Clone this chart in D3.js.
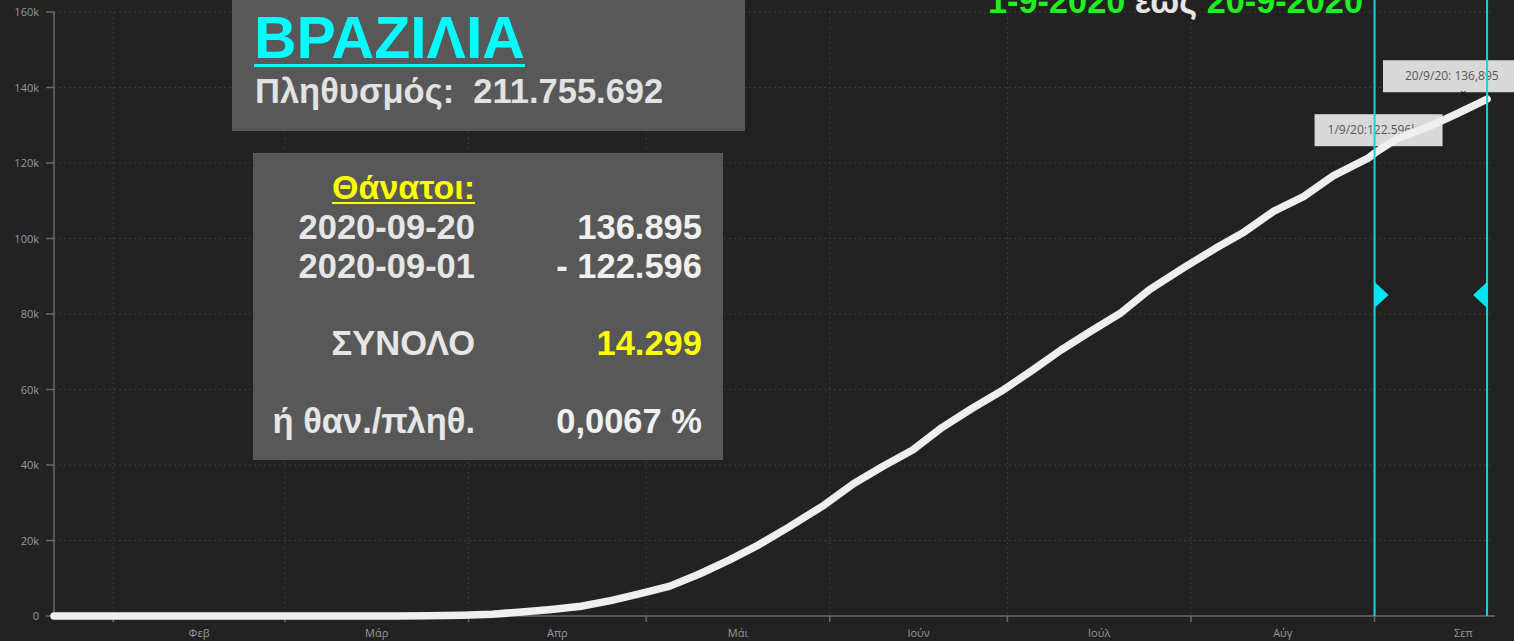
<!DOCTYPE html>
<html lang="el">
<head>
    <meta charset="UTF-8">
    <title>Βραζιλία - θάνατοι</title>
    <script src="https://d3js.org/d3.v7.min.js"></script>
    <style>
        body { margin: 0; background-color: #222222; overflow: hidden; }
        svg { display: block; background-color: #222222; }
        .grid line { stroke: #3c3c3c; stroke-width: 1; stroke-dasharray: 2,3; }
        .axis-line { stroke: #6a6a6a; stroke-width: 1.5; }
        .tick-label { fill: #9a9a9a; font-family: "Open Sans", sans-serif; font-size: 11px; }
        .panel { fill: #585858; }
        .big { font-family: "Liberation Sans", Arial, sans-serif; font-weight: bold; }
    </style>
</head>
<body>
<svg width="1514" height="641"></svg>
<script>
    // Σωρευτικοί θάνατοι Βραζιλίας (εκτίμηση από την εικόνα)
    const dates = ["2020-01-22", "2020-03-15", "2020-03-17", "2020-03-20", "2020-03-25", "2020-03-31",
        "2020-04-05", "2020-04-10", "2020-04-15", "2020-04-20", "2020-04-25", "2020-04-30",
        "2020-05-05", "2020-05-10", "2020-05-15", "2020-05-20", "2020-05-25", "2020-05-31",
        "2020-06-05", "2020-06-10", "2020-06-15", "2020-06-20", "2020-06-25", "2020-06-30",
        "2020-07-05", "2020-07-10", "2020-07-15", "2020-07-20", "2020-07-25", "2020-07-31",
        "2020-08-05", "2020-08-10", "2020-08-15", "2020-08-20", "2020-08-25", "2020-08-31",
        "2020-09-01", "2020-09-05", "2020-09-10", "2020-09-15", "2020-09-20"];
    const deaths = [0, 0, 1, 11, 59, 201,
        486, 1057, 1736, 2587, 4057, 5901,
        7921, 11123, 14817, 18859, 23473, 29314,
        35026, 39680, 43959, 49976, 54971, 59594,
        64867, 70398, 75366, 80120, 86449, 92475,
        97256, 101752, 107232, 111100, 116580, 121381,
        122596, 126650, 129522, 133119, 136895];

    const yTicks = [0, 20000, 40000, 60000, 80000, 100000, 120000, 140000, 160000];
    const monthStarts = ["2020-02-01", "2020-03-01", "2020-04-01", "2020-05-01", "2020-06-01",
        "2020-07-01", "2020-08-01", "2020-09-01", "2020-10-01"];
    const monthLabels = ["Φεβ", "Μάρ", "Απρ", "Μάι", "Ιούν", "Ιούλ", "Αύγ", "Σεπ"];

    const markDates = ["2020-09-01", "2020-09-20"];
    const markLabels = ["1/9/20:122.596k", "20/9/20: 136,895"];

    const parse = d3.timeParse("%Y-%m-%d");
    const data = dates.map((d, i) => ({ date: parse(d), value: deaths[i] }));

    const W = 1514, H = 641;
    const svg = d3.select("svg");

    const x = d3.scaleTime()
        .domain([parse("2020-01-22"), parse("2020-09-21")])
        .range([54, 1493]);
    const y = d3.scaleLinear()
        .domain([0, 160000])
        .range([616, 12]);

    // gridlines
    const grid = svg.append("g").attr("class", "grid");
    grid.selectAll(".h").data(yTicks.slice(1)).enter().append("line")
        .attr("x1", x.range()[0]).attr("x2", x.range()[1])
        .attr("y1", d => y(d)).attr("y2", d => y(d));
    grid.selectAll(".v").data(monthStarts.slice(0, 8)).enter().append("line")
        .attr("x1", d => x(parse(d))).attr("x2", d => x(parse(d)))
        .attr("y1", y(160000)).attr("y2", y(0));

    // axes
    svg.append("line").attr("class", "axis-line")
        .attr("x1", 54).attr("x2", 54).attr("y1", y(160000)).attr("y2", y(0));
    svg.append("line").attr("class", "axis-line")
        .attr("x1", 54).attr("x2", 1495).attr("y1", y(0)).attr("y2", y(0));

    svg.selectAll(".ytick").data(yTicks).enter().append("line")
        .attr("class", "axis-line")
        .attr("x1", 46).attr("x2", 54)
        .attr("y1", d => y(d)).attr("y2", d => y(d));
    svg.selectAll(".ylab").data(yTicks).enter().append("text")
        .attr("class", "tick-label")
        .attr("x", 39).attr("y", d => y(d) + 4)
        .attr("text-anchor", "end")
        .text(d => d === 0 ? "0" : (d / 1000) + "k");

    svg.selectAll(".xtick").data(monthStarts.slice(0, 8)).enter().append("line")
        .attr("class", "axis-line")
        .attr("x1", d => x(parse(d))).attr("x2", d => x(parse(d)))
        .attr("y1", y(0)).attr("y2", y(0) + 6);
    svg.selectAll(".xlab").data(monthLabels).enter().append("text")
        .attr("class", "tick-label")
        .attr("x", (d, i) => (x(parse(monthStarts[i])) + x(parse(monthStarts[i + 1]))) / 2)
        .attr("y", 637)
        .attr("text-anchor", "middle")
        .text(d => d);

    // tooltip boxes
    const marks = markDates.map((d, i) => {
        const p = data.find(e => +e.date === +parse(d));
        return { px: x(p.date), py: y(p.value), label: markLabels[i] };
    });
    const boxW = [128, 133];
    marks.forEach((m, i) => {
        const left = Math.min(m.px - 60, W - boxW[i] + 2);
        svg.append("rect")
            .attr("x", left).attr("y", m.py - 39)
            .attr("width", boxW[i]).attr("height", 32)
            .attr("fill", "#d9d9d9");
        svg.append("text")
            .attr("x", left + (i === 0 ? 13 : 22)).attr("y", m.py - 19)
            .attr("fill", "#555")
            .style("font-family", "'Open Sans', sans-serif")
            .style("font-size", "12px")
            .text(m.label);
    });

    // curve
    const line = d3.line()
        .x(d => x(d.date))
        .y(d => y(d.value));
    svg.append("path")
        .datum(data)
        .attr("fill", "none")
        .attr("stroke", "#efefef")
        .attr("stroke-width", 7.5)
        .attr("stroke-linecap", "round")
        .attr("stroke-linejoin", "round")
        .attr("d", line);

    svg.append("text")
        .attr("x", marks[1].px - 27).attr("y", marks[1].py - 2)
        .attr("fill", "#111")
        .style("font-family", "'Open Sans', sans-serif")
        .style("font-size", "11px")
        .text("×");

    // cyan selection lines with handles
    marks.forEach((m, i) => {
        svg.append("line")
            .attr("x1", m.px).attr("x2", m.px)
            .attr("y1", 0).attr("y2", y(0))
            .attr("stroke", "#19d3dc").attr("stroke-width", 2);
        const dir = i === 0 ? 1 : -1;
        svg.append("path")
            .attr("d", `M${m.px},282 L${m.px + dir * 14},295 L${m.px},308 Z`)
            .attr("fill", "#00e5f0");
    });

    // underline helper: a bar under a text's own box
    function underline(t, color, yPos, h) {
        const b = t.node().getBBox();
        svg.append("rect")
            .attr("x", b.x).attr("y", yPos).attr("width", b.width).attr("height", h)
            .attr("fill", color);
    }

    // panel 1: country
    svg.append("rect").attr("class", "panel")
        .attr("x", 232).attr("y", -5).attr("width", 513).attr("height", 136);
    const country = svg.append("text").attr("class", "big")
        .attr("x", 254).attr("y", 58)
        .attr("fill", "#00ffff")
        .style("font-size", "59px")
        .text("ΒΡΑΖΙΛΙΑ");
    underline(country, "#00ffff", 64, 3);
    svg.append("text").attr("class", "big")
        .attr("x", 255).attr("y", 103)
        .attr("fill", "#e2e2e2")
        .style("font-size", "34.5px")
        .attr("xml:space", "preserve")
        .text("Πληθυσμός:  211.755.692");

    // panel 2: deaths
    svg.append("rect").attr("class", "panel")
        .attr("x", 253).attr("y", 153).attr("width", 470).attr("height", 307);

    const rowsLeft = ["2020-09-20", "2020-09-01", "ΣΥΝΟΛΟ", "ή θαν./πληθ."];
    const rowsRight = ["136.895", "- 122.596", "14.299", "0,0067 %"];
    const rowY = [239, 278, 355, 433];

    const head = svg.append("text").attr("class", "big")
        .attr("x", 475).attr("y", 199)
        .attr("text-anchor", "end")
        .attr("fill", "#ffff00")
        .style("font-size", "34px")
        .text("Θάνατοι:");
    underline(head, "#ffff00", 202, 2);

    svg.selectAll(".rl").data(rowsLeft).enter().append("text")
        .attr("class", "big")
        .attr("x", 475).attr("y", (d, i) => rowY[i])
        .attr("text-anchor", "end")
        .attr("fill", "#e6e6e6")
        .style("font-size", "34.5px")
        .text(d => d);
    svg.selectAll(".rr").data(rowsRight).enter().append("text")
        .attr("class", "big")
        .attr("x", 702).attr("y", (d, i) => rowY[i])
        .attr("text-anchor", "end")
        .attr("fill", (d, i) => i === 2 ? "#ffff00" : "#f0f0f0")
        .style("font-size", "34.5px")
        .text(d => d);

    // title
    const title = svg.append("text").attr("class", "big")
        .attr("x", 988).attr("y", 13)
        .style("font-size", "34.3px");
    title.append("tspan").attr("fill", "#1ff01f").text("1-9-2020 ");
    title.append("tspan").attr("fill", "#e6e6e6").text("έως");
    title.append("tspan").attr("fill", "#1ff01f").text(" 20-9-2020");
</script>
</body>
</html>
